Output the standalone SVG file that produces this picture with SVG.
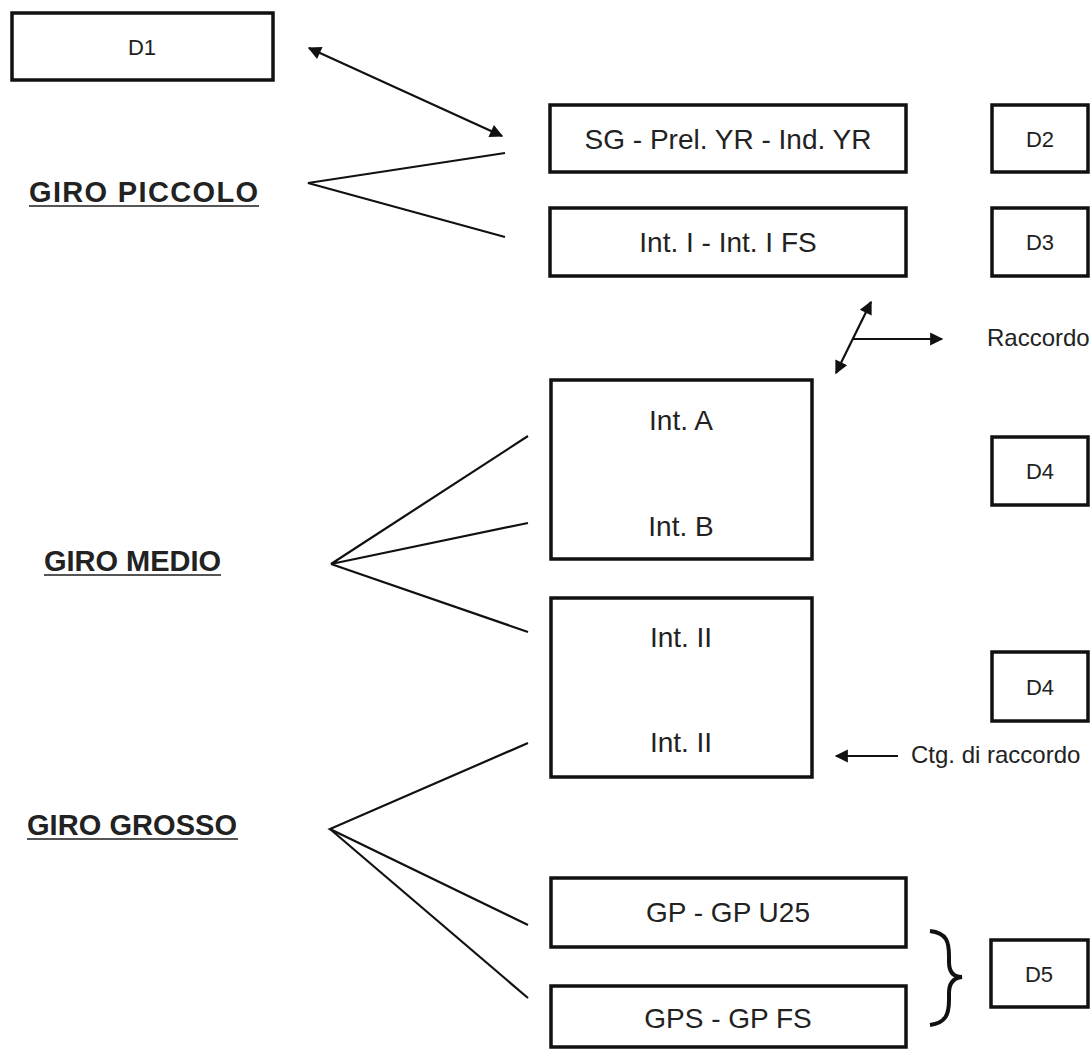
<svg xmlns="http://www.w3.org/2000/svg" width="1092" height="1051" viewBox="0 0 1092 1051">
<defs>
<style>
.box{fill:#fff;stroke:#111;stroke-width:3.5}
.lbl{font-family:"Liberation Sans",Arial,sans-serif;font-size:28px;fill:#222;text-anchor:middle}
.dl{font-family:"Liberation Sans",Arial,sans-serif;font-size:22px;fill:#222;text-anchor:middle}
.note{font-family:"Liberation Sans",Arial,sans-serif;font-size:24px;fill:#222}
.giro{font-family:"Liberation Sans",Arial,sans-serif;font-size:29px;font-weight:bold;fill:#222}
.ul{stroke:#555;stroke-width:2}
.ln{stroke:#111;stroke-width:2.2;fill:none}
.ar{stroke:#111;stroke-width:2.2;fill:none;marker-end:url(#ah)}
.ar2{stroke:#111;stroke-width:2.2;fill:none;marker-end:url(#ah);marker-start:url(#ah)}
</style>
<marker id="ah" viewBox="0 0 10 10" refX="9" refY="5" markerWidth="7" markerHeight="6" markerUnits="strokeWidth" orient="auto-start-reverse">
<path d="M0,0 L10,5 L0,10 z" fill="#111"/>
</marker>
</defs>
<rect width="1092" height="1051" fill="#fff"/>

<g id="d1"><rect class="box" x="12" y="13" width="261" height="67"/><text class="dl" x="142" y="55">D1</text></g>

<g id="giro-piccolo"><text class="giro" x="29" y="202" textLength="229" lengthAdjust="spacing">GIRO PICCOLO</text><line class="ul" x1="29" y1="206" x2="259" y2="206"/></g>
<g id="giro-medio"><text class="giro" x="44" y="571" textLength="177" lengthAdjust="spacing">GIRO MEDIO</text><line class="ul" x1="44" y1="575" x2="221" y2="575"/></g>
<g id="giro-grosso"><text class="giro" x="27" y="835" textLength="210" lengthAdjust="spacing">GIRO GROSSO</text><line class="ul" x1="27" y1="839" x2="238" y2="839"/></g>

<g id="sg"><rect class="box" x="550" y="105" width="356" height="67"/><text class="lbl" x="728" y="149">SG - Prel. YR - Ind. YR</text></g>
<g id="int1"><rect class="box" x="550" y="208" width="356" height="68"/><text class="lbl" x="728" y="252">Int. I - Int. I FS</text></g>
<g id="d2"><rect class="box" x="992" y="105" width="96" height="67"/><text class="dl" x="1040" y="147">D2</text></g>
<g id="d3"><rect class="box" x="992" y="208" width="96" height="68"/><text class="dl" x="1040" y="250">D3</text></g>

<g id="intab"><rect class="box" x="551" y="380" width="261" height="179"/><text class="lbl" x="681" y="430">Int. A</text><text class="lbl" x="681" y="536">Int. B</text></g>
<g id="d4a"><rect class="box" x="992" y="437" width="96" height="68"/><text class="dl" x="1040" y="479">D4</text></g>

<g id="int2"><rect class="box" x="551" y="598" width="261" height="179"/><text class="lbl" x="681" y="647">Int. II</text><text class="lbl" x="681" y="752">Int. II</text></g>
<g id="d4b"><rect class="box" x="992" y="652" width="96" height="69"/><text class="dl" x="1040" y="695">D4</text></g>

<g id="gp"><rect class="box" x="551" y="878" width="355" height="69"/><text class="lbl" x="728" y="922">GP - GP U25</text></g>
<g id="gps"><rect class="box" x="551" y="986" width="355" height="61"/><text class="lbl" x="728" y="1028">GPS - GP FS</text></g>
<g id="d5"><rect class="box" x="991" y="940" width="97" height="67"/><text class="dl" x="1039" y="982">D5</text></g>

<g id="raccordo"><text class="note" x="987" y="346">Raccordo</text></g>
<g id="ctg"><text class="note" x="911" y="763">Ctg. di raccordo</text></g>

<g id="connectors">
<line class="ar2" x1="309" y1="48" x2="502" y2="136"/>
<polyline class="ln" points="505,153 308,183 505,237"/>
<line class="ar2" x1="871" y1="302" x2="836" y2="373"/>
<line class="ar" x1="853" y1="339" x2="942" y2="339"/>
<polyline class="ln" points="528,436 331,564 528,523"/>
<line class="ln" x1="331" y1="564" x2="528" y2="632"/>
<polyline class="ln" points="528,743 330,829 528,925"/>
<line class="ln" x1="330" y1="829" x2="528" y2="998"/>
<line class="ar" x1="898" y1="756" x2="836" y2="756"/>
<path d="M930,931 C947,933 949,942 949,956 L949,962 C949,972 953,977 962,977 C953,978 949,983 949,993 L949,1000 C949,1014 946,1023 930,1025" fill="none" stroke="#111" stroke-width="4"/>
</g>
</svg>
